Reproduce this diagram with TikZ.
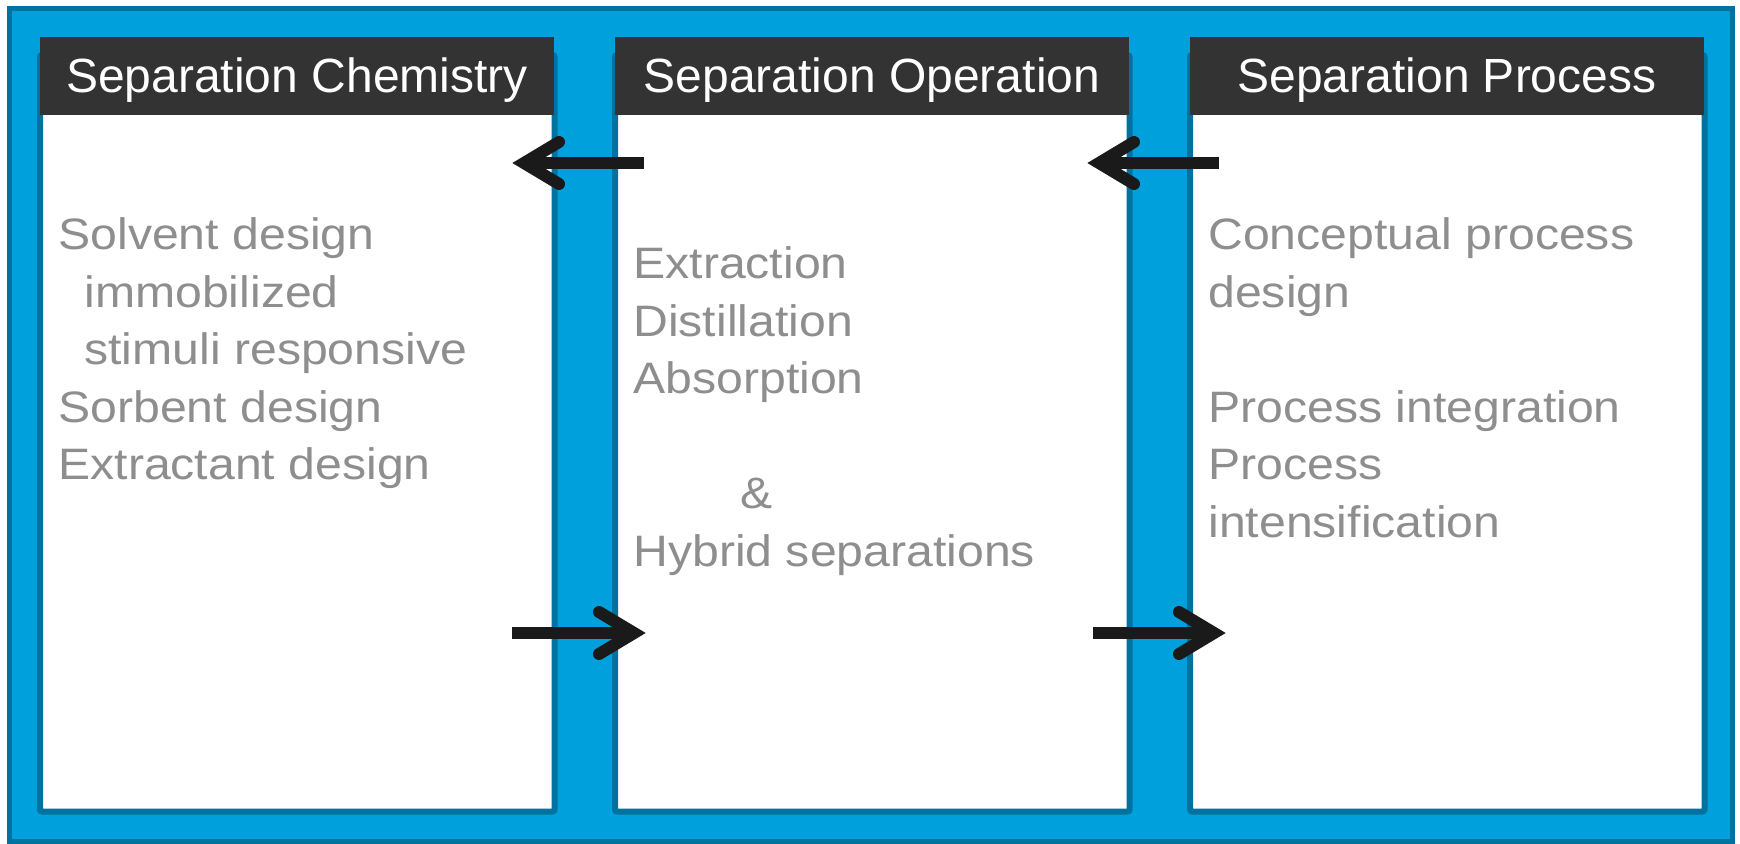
\documentclass[tikz,border=0pt]{standalone}
\usepackage{fontspec}
\newfontfamily\hdrfont{Liberation Sans}
\newfontfamily\bodyfont{Liberation Sans}[FakeStretch=1.095]
\definecolor{frameblue}{RGB}{0,160,220}
\definecolor{edgeblue}{RGB}{0,114,160}
\definecolor{hdrgray}{RGB}{51,51,51}
\definecolor{txtgray}{RGB}{142,142,142}
\definecolor{arrowblack}{RGB}{26,26,26}
\tikzset{
  panelbox/.style={draw=edgeblue, line width=3pt, fill=white, rounded corners=1pt,
    minimum width=257.25pt, minimum height=378.25pt, inner sep=0pt},
  hdrbox/.style={fill=hdrgray, text=white, minimum width=257pt, minimum height=39pt,
    inner sep=0pt, text height=16.5pt, text depth=0pt,
    font=\hdrfont\fontsize{24}{28}\selectfont},
  itemtext/.style={anchor=base west, inner sep=0pt, text=txtgray,
    font=\bodyfont\fontsize{22}{28}\selectfont},
  shaft/.style={draw=arrowblack, line width=6pt, line cap=butt},
  barb/.style={draw=arrowblack, line width=6pt, line cap=round, line join=miter}
}
\begin{document}
\begin{tikzpicture}[x=0.5pt, y=-0.5pt]
\useasboundingbox (0,0) rectangle (1740,844);
\fill[white] (0,0) rectangle (1740,844);
% blue frame
\draw[edgeblue, fill=frameblue, line width=2.5pt] (9.5,8.5) rectangle (1732,841.5);

% three panels with their title bars
\node[panelbox] (p1) at (297.25,433.25) {};
\node[panelbox] (p2) at (872.25,433.25) {};
\node[panelbox] (p3) at (1447.25,433.25) {};
\node[hdrbox] (h1) at (297,76) {Separation Chemistry};
\node[hdrbox] (h2) at (872,76) {Separation Operation};
\node[hdrbox] (h3) at (1447,76) {Separation Process};

% panel 1 items
\node[itemtext] (c1) at (58,250) {Solvent design};
\node[itemtext] (c2) at (84,307.5) {immobilized};
\node[itemtext] (c3) at (84,365) {stimuli responsive};
\node[itemtext] (c4) at (58,422.5) {Sorbent design};
\node[itemtext] (c5) at (58,480) {Extractant design};

% panel 2 items
\node[itemtext] (o1) at (633,279) {Extraction};
\node[itemtext] (o2) at (633,336.5) {Distillation};
\node[itemtext] (o3) at (633,394) {Absorption};
\node[itemtext] (o4) at (740,509) {\&};
\node[itemtext] (o5) at (633,566.5) {Hybrid separations};

% panel 3 items
\node[itemtext] (r1) at (1208,250) {Conceptual process};
\node[itemtext] (r2) at (1208,307.5) {design};
\node[itemtext] (r3) at (1208,422.5) {Process integration};
\node[itemtext] (r4) at (1208,480) {Process};
\node[itemtext] (r5) at (1208,537.5) {intensification};

% arrow end points
\coordinate (a1s) at (644,163);
\coordinate (a1e) at (524,163);
\coordinate (a2s) at (1219,163);
\coordinate (a2e) at (1099,163);
\coordinate (b1s) at (512,633);
\coordinate (b1e) at (634,633);
\coordinate (b2s) at (1093,633);
\coordinate (b2e) at (1214,633);

% backward arrows (top)
\draw[shaft] (a1s) -- (a1e);
\draw[barb] (a1e) ++(35,-21) -- (a1e) -- ++(35,21);
\draw[shaft] (a2s) -- (a2e);
\draw[barb] (a2e) ++(35,-21) -- (a2e) -- ++(35,21);
% forward arrows (bottom)
\draw[shaft] (b1s) -- (b1e);
\draw[barb] (b1e) ++(-35,-21) -- (b1e) -- ++(-35,21);
\draw[shaft] (b2s) -- (b2e);
\draw[barb] (b2e) ++(-35,-21) -- (b2e) -- ++(-35,21);
\end{tikzpicture}
\end{document}
